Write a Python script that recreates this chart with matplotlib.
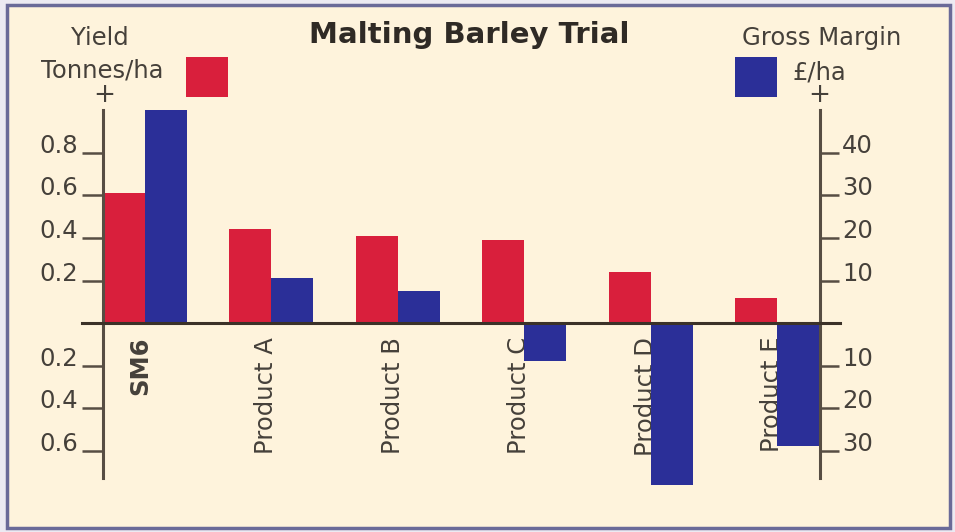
import matplotlib.pyplot as plt
from matplotlib.patches import Rectangle
import numpy as np

# data
products = ['SM6', 'Product A', 'Product B', 'Product C', 'Product D', 'Product E']
yield_t = [0.61, 0.44, 0.41, 0.39, 0.24, 0.12]        # tonnes/ha
margin = [50, 10.5, 7.5, -9, -38, -29]                # GBP/ha
yield_ticks = [-0.6, -0.4, -0.2, 0.2, 0.4, 0.6, 0.8]
yield_labels = ['0.6', '0.4', '0.2', '0.2', '0.4', '0.6', '0.8']
margin_ticks = [-30, -20, -10, 10, 20, 30, 40]
margin_labels = ['30', '20', '10', '10', '20', '30', '40']

RED = '#d91f3c'
BLUE = '#2b2f98'
CREAM = '#fef3dc'
TXT = '#45403a'
LINE = '#574d43'
FS = 17.5

W, H = 955, 532


def fx(x):
    return x / W


def fy(y):
    return 1 - y / H


plt.rcParams['font.family'] = 'DejaVu Sans'
plt.rcParams['ytick.alignment'] = 'baseline'

fig = plt.figure(figsize=(W / 100, H / 100), dpi=100, facecolor='#eceaf2')

# framed cream panel
fig.add_artist(Rectangle((fx(7), fy(528)), fx(950) - fx(7), fy(5) - fy(528),
                         transform=fig.transFigure, facecolor=CREAM,
                         edgecolor='#6a6a98', lw=2.5, zorder=0))

ax = fig.add_axes([fx(103), fy(478), fx(820) - fx(103), fy(110) - fy(478)])
ax.patch.set_visible(False)
lo, hi = -0.729, 1.002
ax.set_xlim(-0.332, 5.34)
ax.set_ylim(lo, hi)

x = np.arange(len(products))
w = 0.332
ax.bar(x, yield_t, width=-w, align='edge', color=RED, zorder=2)

ax2 = ax.twinx()
ax2.set_ylim(lo * 50, hi * 50)
bars = ax2.bar(x, margin, width=w, align='edge', color=BLUE, zorder=2)
for b in bars:
    b.set_clip_on(False)   # Product D runs past the axis end

# zero line
ax2.axhline(0, xmin=(82 - 103) / 717, xmax=(840 - 103) / 717,
            color='#3b3128', lw=2.2, clip_on=False, zorder=5)

for s in ['top', 'right', 'bottom']:
    ax.spines[s].set_visible(False)
for s in ['top', 'left', 'bottom']:
    ax2.spines[s].set_visible(False)
ax.spines['left'].set_color(LINE)
ax.spines['left'].set_linewidth(2.2)
ax2.spines['right'].set_color(LINE)
ax2.spines['right'].set_linewidth(2.2)

ax.set_yticks(yield_ticks, yield_labels)
ax.tick_params(axis='y', direction='out', length=15, width=1.8, pad=3,
               color=LINE, labelcolor=TXT, labelsize=FS)
ax2.set_yticks(margin_ticks, margin_labels)
ax2.tick_params(axis='y', direction='out', length=14, width=1.8, pad=2,
                color=LINE, labelcolor=TXT, labelsize=FS)

# product labels hang below the zero line
ax.spines['bottom'].set_position(('data', 0))
ax.set_xticks(x - 0.04, products, rotation=90)
ax.tick_params(axis='x', length=0, pad=10, labelcolor=TXT, labelsize=FS)
ax.get_xticklabels()[0].set_fontweight('bold')

# titles and axis headings
fig.text(fx(469), fy(43), 'Malting Barley Trial', ha='center', va='baseline',
         fontsize=21, fontweight='bold', color='#2f2a25')
fig.text(fx(100), fy(45), 'Yield', ha='center', va='baseline', fontsize=FS, color=TXT)
fig.text(fx(102), fy(77), 'Tonnes/ha', ha='center', va='baseline', fontsize=FS, color=TXT)
fig.text(fx(104), fy(95), '+', ha='center', va='center', fontsize=19, color=TXT)
fig.text(fx(822), fy(45), 'Gross Margin', ha='center', va='baseline', fontsize=FS, color=TXT)
fig.text(fx(792), fy(79), '£/ha', ha='left', va='baseline', fontsize=FS, color=TXT)
fig.text(fx(819), fy(95), '+', ha='center', va='center', fontsize=19, color=TXT)

# legend swatches
fig.add_artist(Rectangle((fx(186), fy(97)), fx(228) - fx(186), fy(57) - fy(97),
                         transform=fig.transFigure, facecolor=RED, lw=0))
fig.add_artist(Rectangle((fx(735), fy(97)), fx(777) - fx(735), fy(57) - fy(97),
                         transform=fig.transFigure, facecolor=BLUE, lw=0))

fig.savefig('out.png', dpi=100, facecolor=fig.get_facecolor())
